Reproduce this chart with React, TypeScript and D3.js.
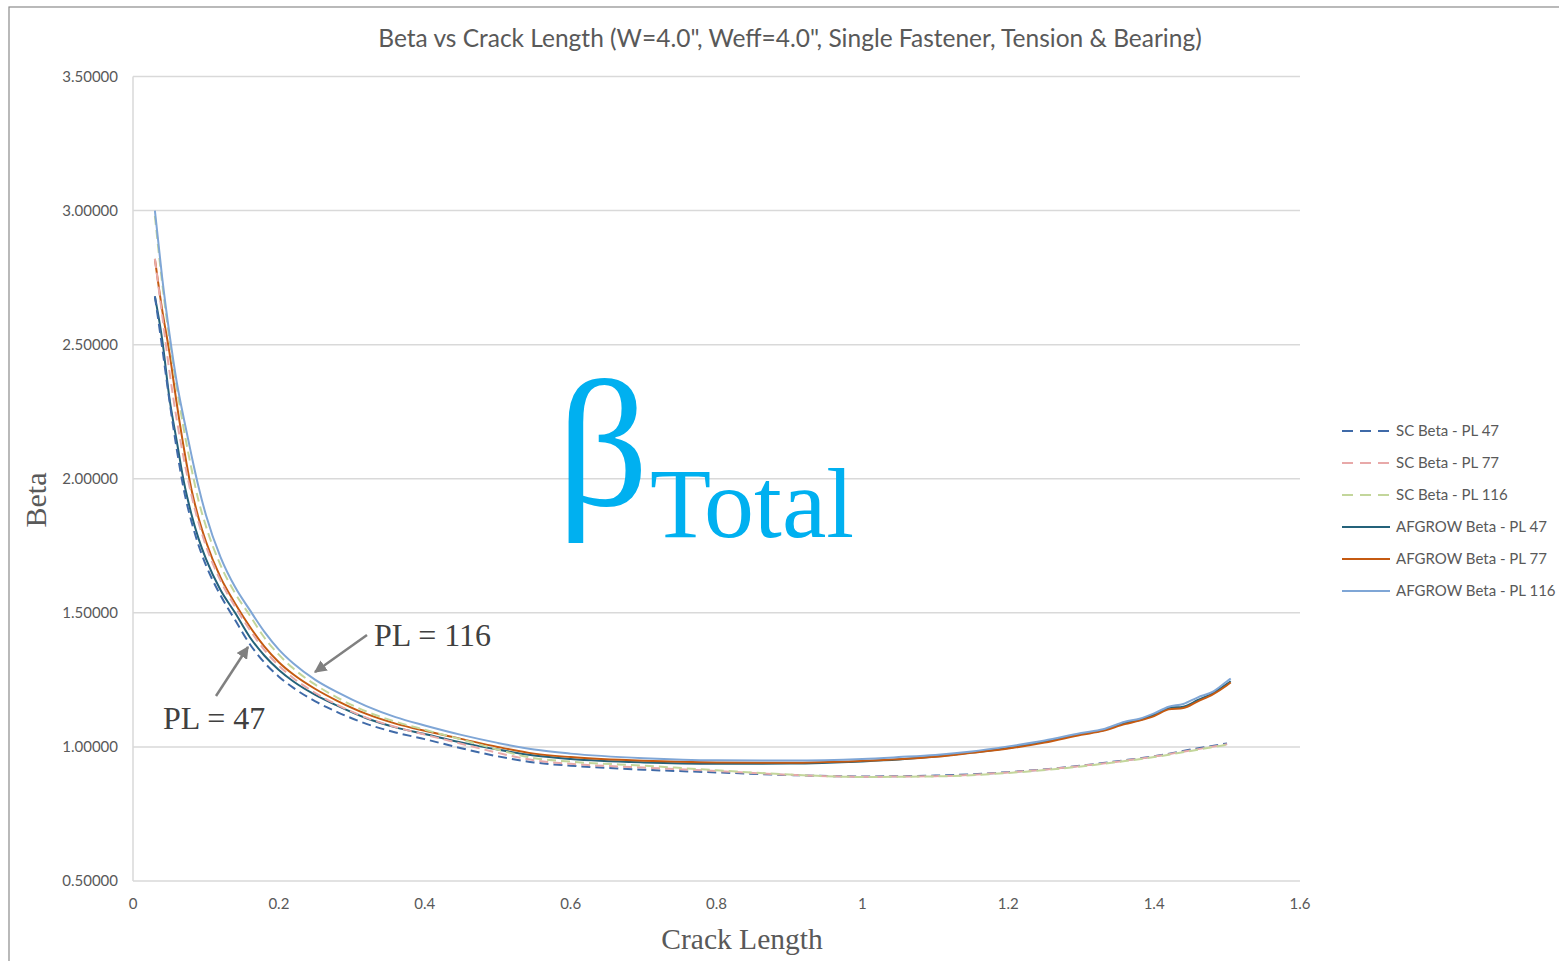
import React from "react";
import * as d3 from "d3";

const titleText = 'Beta vs Crack Length (W=4.0", Weff=4.0", Single Fastener, Tension & Bearing)';
const yTicks = [0.5, 1.0, 1.5, 2.0, 2.5, 3.0, 3.5];
const xTicks = [0, 0.2, 0.4, 0.6, 0.8, 1, 1.2, 1.4, 1.6];

const xs = [0.03, 0.04, 0.05, 0.06, 0.07, 0.08, 0.09, 0.10, 0.12, 0.14, 0.16, 0.18, 0.20, 0.22, 0.25, 0.28, 0.32, 0.36, 0.40, 0.45, 0.50, 0.55, 0.60, 0.70, 0.80, 0.90, 1.00, 1.10, 1.20, 1.30, 1.35, 1.40, 1.45, 1.50];

const sc47 = [2.68, 2.49, 2.29, 2.11, 1.955, 1.842, 1.751, 1.678, 1.565, 1.473, 1.384, 1.315, 1.262, 1.22, 1.17, 1.13, 1.086, 1.054, 1.029, 0.995, 0.965, 0.942, 0.93, 0.915, 0.905, 0.895, 0.89, 0.893, 0.906, 0.93, 0.947, 0.965, 0.99, 1.013];
const sc77 = [2.82, 2.61, 2.40, 2.22, 2.07, 1.94, 1.835, 1.75, 1.62, 1.523, 1.437, 1.362, 1.303, 1.256, 1.201, 1.157, 1.109, 1.074, 1.046, 1.012, 0.978, 0.95, 0.937, 0.923, 0.91, 0.896, 0.889, 0.891, 0.905, 0.929, 0.945, 0.964, 0.987, 1.01];
const sc116 = [2.98, 2.73, 2.52, 2.34, 2.18, 2.04, 1.917, 1.823, 1.678, 1.573, 1.491, 1.408, 1.344, 1.292, 1.232, 1.184, 1.132, 1.094, 1.064, 1.028, 0.99, 0.958, 0.945, 0.93, 0.913, 0.897, 0.888, 0.89, 0.903, 0.927, 0.944, 0.962, 0.985, 1.008];

const afXs = [0.03, 0.04, 0.05, 0.06, 0.07, 0.08, 0.09, 0.10, 0.12, 0.14, 0.16, 0.18, 0.20, 0.22, 0.25, 0.28, 0.32, 0.36, 0.40, 0.45, 0.50, 0.55, 0.60, 0.70, 0.80, 0.90, 1.00, 1.05, 1.10, 1.15, 1.20, 1.25, 1.30, 1.33, 1.36, 1.38, 1.40, 1.42, 1.44, 1.46, 1.48, 1.50, 1.505];
const af47 = [2.68, 2.52, 2.30, 2.14, 1.985, 1.869, 1.776, 1.701, 1.585, 1.50, 1.41, 1.341, 1.287, 1.244, 1.194, 1.154, 1.107, 1.073, 1.048, 1.017, 0.99, 0.968, 0.955, 0.942, 0.937, 0.938, 0.946, 0.953, 0.964, 0.979, 0.996, 1.02, 1.048, 1.062, 1.09, 1.10, 1.12, 1.145, 1.15, 1.175, 1.20, 1.235, 1.245];
const af77 = [2.82, 2.63, 2.47, 2.28, 2.11, 1.962, 1.853, 1.766, 1.632, 1.535, 1.449, 1.375, 1.316, 1.27, 1.216, 1.172, 1.123, 1.087, 1.06, 1.03, 1.0, 0.975, 0.962, 0.948, 0.942, 0.941, 0.948, 0.954, 0.963, 0.978, 0.994, 1.016, 1.045, 1.06, 1.085, 1.098, 1.115, 1.14, 1.145, 1.17, 1.195, 1.23, 1.24];
const af116 = [3.00, 2.75, 2.54, 2.36, 2.22, 2.09, 1.968, 1.865, 1.708, 1.596, 1.511, 1.43, 1.363, 1.311, 1.25, 1.204, 1.152, 1.111, 1.08, 1.045, 1.015, 0.99, 0.975, 0.958, 0.95, 0.949, 0.955, 0.962, 0.97, 0.983, 1.002, 1.024, 1.052, 1.066, 1.094, 1.105, 1.125, 1.15, 1.16, 1.185, 1.205, 1.245, 1.255];

const seriesNames = ["SC Beta - PL 47", "SC Beta - PL 77", "SC Beta - PL 116", "AFGROW Beta - PL 47", "AFGROW Beta - PL 77", "AFGROW Beta - PL 116"];
const seriesColors = ["#3f6aa8", "#e8a9a9", "#c3d69b", "#24627a", "#c55a11", "#7fa6d6"];
const seriesDashed = [true, true, true, false, false, false];

export default function App() {
  const W = 1559, H = 961;
  const left = 133, right = 1300, top = 76.5, bottom = 881;
  const x = d3.scaleLinear().domain([0, 1.6]).range([left, right]);
  const y = d3.scaleLinear().domain([0.5, 3.5]).range([bottom, top]);
  const line = d3.line<[number, number]>().x(d => x(d[0])).y(d => y(d[1])).curve(d3.curveMonotoneX);

  const series = [
    { xs, ys: sc47 }, { xs, ys: sc77 }, { xs, ys: sc116 },
    { xs: afXs, ys: af47 }, { xs: afXs, ys: af77 }, { xs: afXs, ys: af116 },
  ];
  const drawOrder = [3, 4, 0, 1, 2, 5];
  const grey = "#595959";

  return (
    <svg width={W} height={H} style={{ position: "absolute", left: 0, top: 0, background: "#fff" }}>
      <defs>
        <marker id="ah" viewBox="0 0 10 10" refX="9" refY="5" markerWidth="5" markerHeight="5" orient="auto" markerUnits="strokeWidth">
          <path d="M0,0 L10,5 L0,10 z" fill="#808080" />
        </marker>
      </defs>
      <rect x={9} y={7} width={W} height={H} fill="#fff" stroke="#8c8c8c" strokeWidth={1.2} />
      <text x={790} y={47} textAnchor="middle" fontFamily="Lato" fontSize={24.5} fill={grey}>{titleText}</text>
      {yTicks.map(t => (
        <g key={t}>
          <line x1={left} x2={right} y1={y(t)} y2={y(t)} stroke="#d9d9d9" strokeWidth={1.5} />
          <text x={118} y={y(t) + 5} textAnchor="end" fontFamily="Lato" fontSize={15} fill={grey}>{t.toFixed(5)}</text>
        </g>
      ))}
      <line x1={left} x2={left} y1={top} y2={bottom} stroke="#d9d9d9" strokeWidth={1.5} />
      {xTicks.map(t => (
        <text key={t} x={x(t)} y={909} textAnchor="middle" fontFamily="Lato" fontSize={15} fill={grey}>{String(t)}</text>
      ))}
      <text transform={`translate(46,500) rotate(-90)`} textAnchor="middle" fontFamily="Liberation Serif" fontSize={30} fill={grey}>Beta</text>
      <text x={742} y={949} textAnchor="middle" fontFamily="Liberation Serif" fontSize={29.5} fill={grey}>Crack Length</text>

      <text x={557} y={505} fontFamily="Liberation Serif" fontSize={180} fill="#00b0f0">β</text>
      <text x={650} y={537} fontFamily="Liberation Serif" fontSize={100} fill="#00b0f0">Total</text>

      {drawOrder.map(i => {
        const s = series[i];
        const pts = s.xs.map((v, k) => [v, s.ys[k]] as [number, number]);
        return (
          <path key={i} d={line(pts) || ""} fill="none" stroke={seriesColors[i]} strokeWidth={2}
            strokeDasharray={seriesDashed[i] ? "9,5" : undefined} />
        );
      })}

      <line x1={367} y1={635} x2={315} y2={672} stroke="#808080" strokeWidth={2.5} markerEnd="url(#ah)" />
      <line x1={216} y1={696} x2={248} y2={647} stroke="#808080" strokeWidth={2.5} markerEnd="url(#ah)" />
      <text x={374} y={646} fontFamily="Liberation Serif" fontSize={32} fill="#404040">PL = 116</text>
      <text x={163} y={729} fontFamily="Liberation Serif" fontSize={32} fill="#404040">PL = 47</text>

      {seriesNames.map((n, i) => {
        const ly = 431 + i * 32;
        return (
          <g key={n}>
            <line x1={1342} x2={1390} y1={ly} y2={ly} stroke={seriesColors[i]} strokeWidth={2}
              strokeDasharray={seriesDashed[i] ? "11,7" : undefined} />
            <text x={1396} y={ly + 5} fontFamily="Lato" fontSize={15} fill={grey}>{n}</text>
          </g>
        );
      })}
    </svg>
  );
}
